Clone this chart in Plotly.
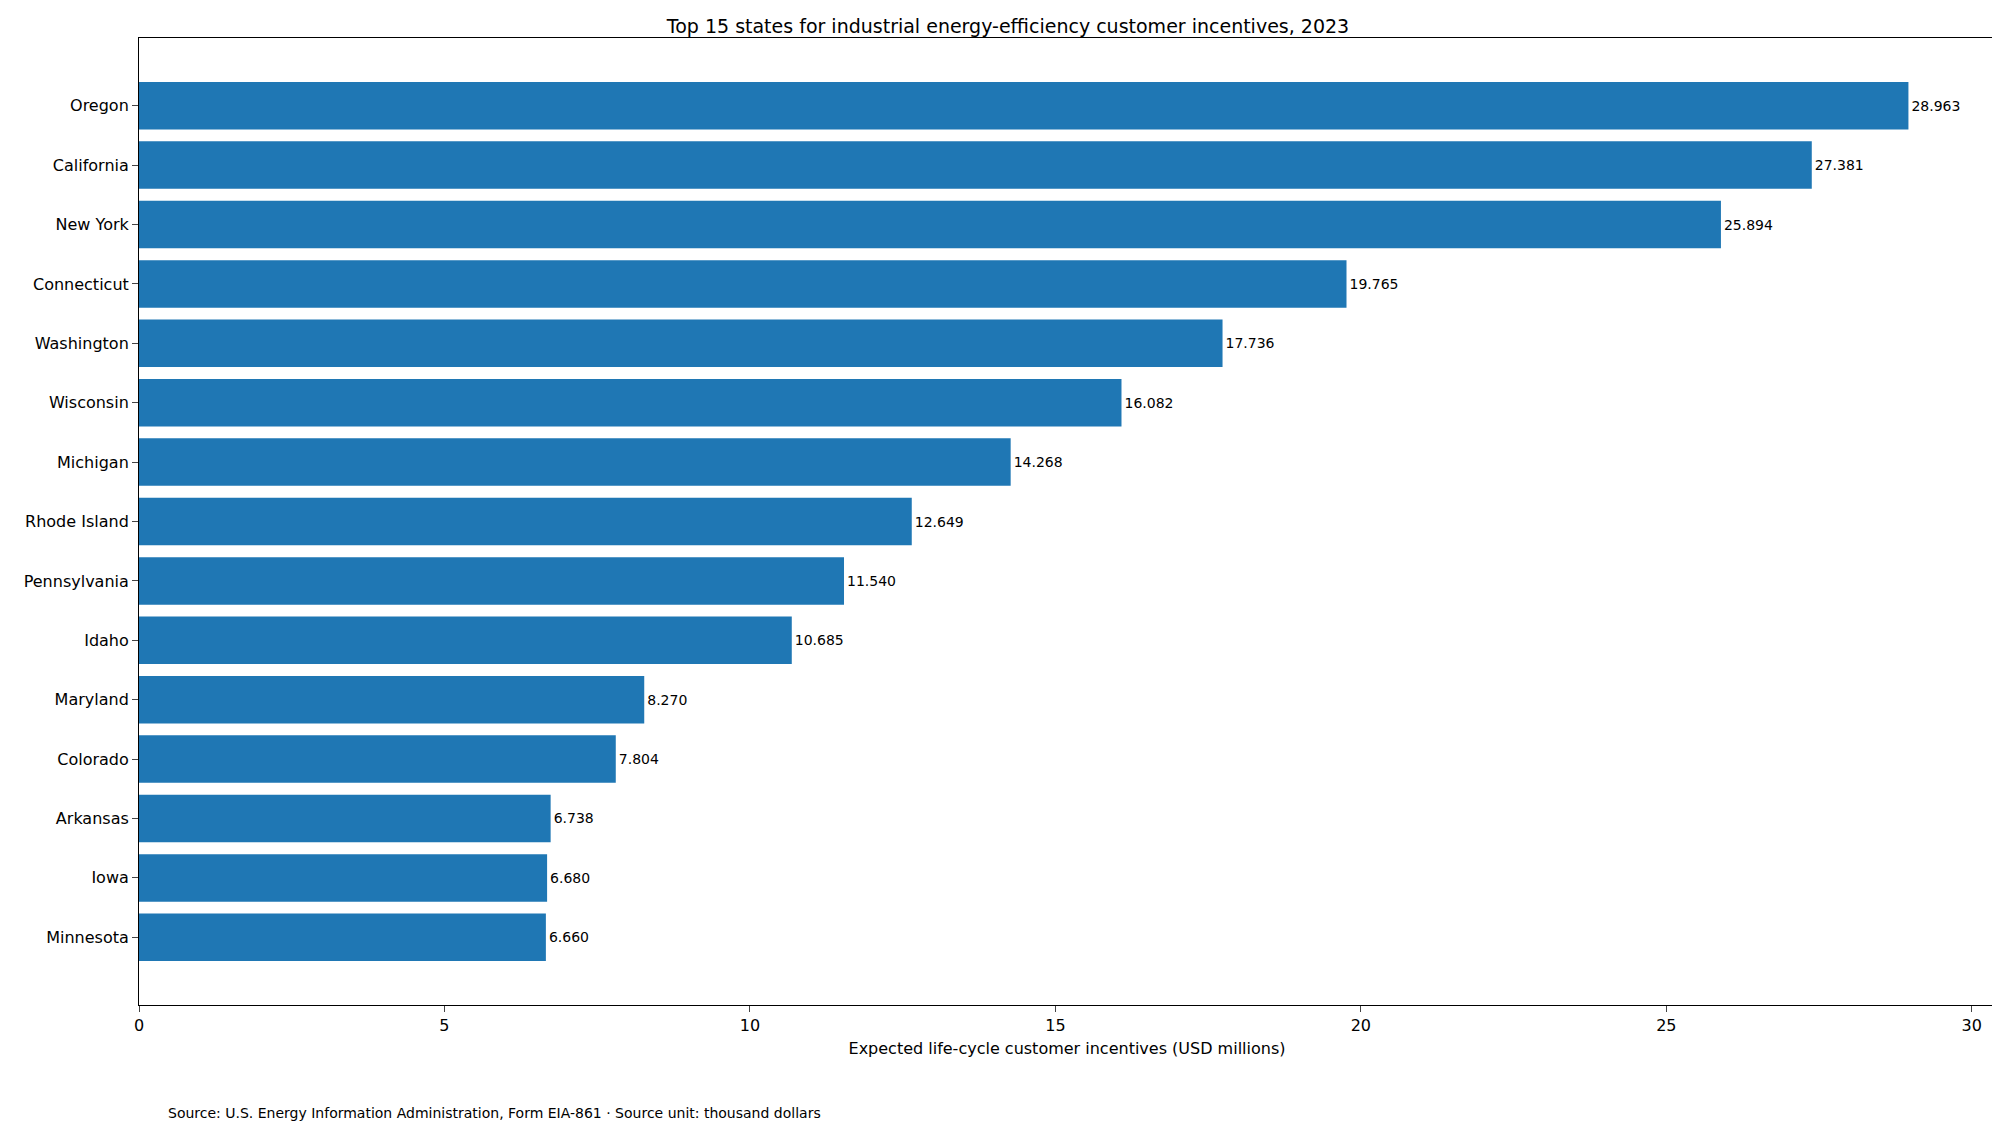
import plotly.graph_objects as go

states = ["Oregon", "California", "New York", "Connecticut", "Washington", "Wisconsin",
          "Michigan", "Rhode Island", "Pennsylvania", "Idaho", "Maryland", "Colorado",
          "Arkansas", "Iowa", "Minnesota"]
values = [28.963, 27.381, 25.894, 19.765, 17.736, 16.082, 14.268, 12.649, 11.540,
          10.685, 8.270, 7.804, 6.738, 6.680, 6.660]

n = len(states)
ypos = list(range(n - 1, -1, -1))

fig = go.Figure(go.Bar(
    x=values, y=ypos, orientation="h", width=0.8,
    marker=dict(color="#1f77b4", line_width=0),
    text=[f"{v:.3f}" for v in values], textposition="outside",
    textfont=dict(size=14, color="black"), cliponaxis=False,
))

fig.update_layout(
    width=2000, height=1128, plot_bgcolor="white", paper_bgcolor="white",
    margin=dict(l=131, r=13, t=30, b=131),
    font=dict(family="DejaVu Sans", size=16, color="black"),
    title=dict(text="Top 15 states for industrial energy-efficiency customer incentives, 2023",
               x=0.5, xanchor="center", y=0.99, yanchor="top", font=dict(size=19)),
    showlegend=False,
)
fig.update_xaxes(range=[0, 30.38], tickvals=[0, 5, 10, 15, 20, 25, 30],
                 showgrid=False, zeroline=False, showline=True, mirror=True,
                 linecolor="black", linewidth=1, ticks="outside", ticklen=6,
                 title=dict(text="Expected life-cycle customer incentives (USD millions)",
                            font=dict(size=16), standoff=8))
fig.update_yaxes(range=[-1.14, n - 1 + 1.14], tickvals=ypos, ticktext=states,
                 showgrid=False, zeroline=False, showline=True, mirror=True,
                 linecolor="black", linewidth=1, ticks="outside", ticklen=6)

fig.add_annotation(text="Source: U.S. Energy Information Administration, Form EIA-861 · Source unit: thousand dollars",
                   xref="paper", yref="paper", x=0.0145, y=-0.112, xanchor="left", yanchor="middle",
                   showarrow=False, font=dict(size=14))

fig.write_html("out.html")
